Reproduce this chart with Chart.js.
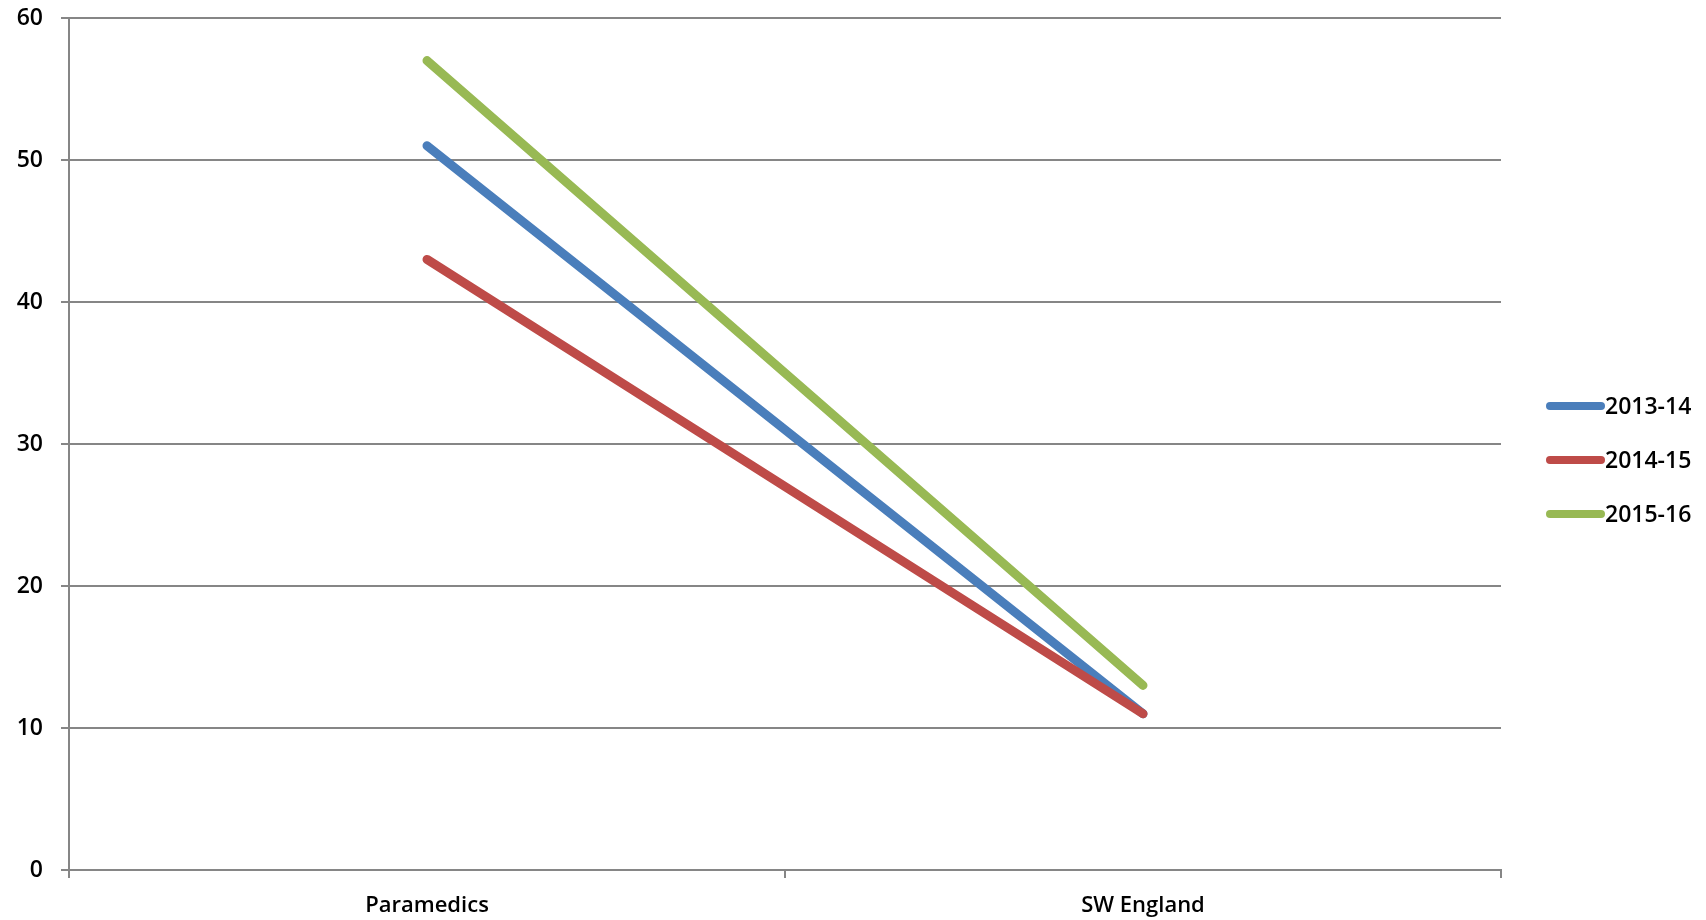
<!DOCTYPE html>
<html>
<head>
<meta charset="utf-8">
<script src="https://cdn.jsdelivr.net/npm/chart.js@4/dist/chart.umd.min.js"></script>
<style>
    html, body { margin: 0; padding: 0; background: #fff; }
    #wrap { width: 1706px; height: 920px; }
</style>
</head>
<body>
<div id="wrap"><canvas id="chartYears"></canvas></div>
<script>
    const categories = ['Paramedics', 'SW England'];
    const seriesNames = ['2013-14', '2014-15', '2015-16'];
    const values2013 = [51, 11];
    const values2014 = [43, 11];
    const values2015 = [57, 13];
    const yTicks = [0, 10, 20, 30, 40, 50, 60];

    const palette = {
        blue: '#4A7EBB',
        red: '#BE4B48',
        green: '#98B954',
        grid: '#868686',
    };
    const fontFamily = '"Open Sans", "Liberation Sans", sans-serif';

    function line(label, data, color, order) {
        return {
            label,
            data,
            order,
            borderColor: color,
            backgroundColor: color,
            borderWidth: 9,
            borderCapStyle: 'round',
            pointRadius: 0,
            tension: 0,
            fill: false,
        };
    }

    // legend drawn at the right, like the original
    const sideLegend = {
        id: 'sideLegend',
        afterDraw(chart) {
            const ctx = chart.ctx;
            const rows = [406, 460, 514];
            ctx.save();
            chart.data.datasets.forEach(function (ds, i) {
                const y = rows[i];
                ctx.strokeStyle = ds.borderColor;
                ctx.lineWidth = 8;
                ctx.lineCap = 'round';
                ctx.beginPath();
                ctx.moveTo(1550, y);
                ctx.lineTo(1601, y);
                ctx.stroke();
                ctx.fillStyle = '#000';
                ctx.font = '600 23px ' + fontFamily;
                ctx.textBaseline = 'middle';
                ctx.fillText(ds.label, 1605, y + 1);
            });
            ctx.restore();
        },
    };

    new Chart(document.getElementById('chartYears'), {
        type: 'line',
        data: {
            labels: categories,
            datasets: [
                line(seriesNames[0], values2013, palette.blue, 3),
                line(seriesNames[1], values2014, palette.red, 2),
                line(seriesNames[2], values2015, palette.green, 1),
            ],
        },
        options: {
            responsive: true,
            maintainAspectRatio: false,
            animation: false,
            layout: { padding: { top: 18, right: 205, left: 0, bottom: 0 } },
            plugins: { legend: { display: false }, tooltip: { enabled: false } },
            scales: {
                x: {
                    offset: true,
                    grid: { drawOnChartArea: false, color: palette.grid, lineWidth: 2, tickLength: 8, offset: true },
                    border: { color: palette.grid, width: 2 },
                    ticks: { color: '#000', padding: 15, font: { family: fontFamily, size: 22, weight: '600' } },
                    afterFit(scale) {
                        scale.height = 50;
                        scale.paddingLeft = 0;
                        scale.paddingRight = 0;
                    },
                },
                y: {
                    min: 0,
                    max: 60,
                    afterBuildTicks(scale) { scale.ticks = yTicks.map(v => ({ value: v })); },
                    grid: { color: palette.grid, lineWidth: 2, tickLength: 8 },
                    border: { color: palette.grid, width: 2 },
                    ticks: { color: '#000', padding: 18, font: { family: fontFamily, size: 23, weight: '600' } },
                    afterFit(scale) {
                        scale.width = 69;
                        scale.paddingTop = 0;
                        scale.paddingBottom = 0;
                    },
                },
            },
        },
        plugins: [sideLegend],
    });
</script>
</body>
</html>
